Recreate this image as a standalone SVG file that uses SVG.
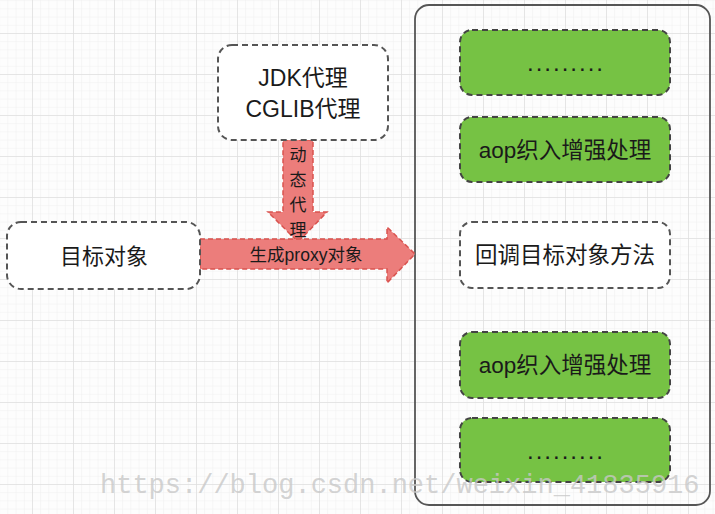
<svg xmlns="http://www.w3.org/2000/svg" width="715" height="514" viewBox="0 0 715 514">
<defs>
<pattern id="minor" x="32" y="33" width="8.2" height="8.2" patternUnits="userSpaceOnUse">
<path d="M0 0H8.2M0 0V8.2" fill="none" stroke="#efefef" stroke-width="1"/>
</pattern>
<pattern id="major" x="32" y="33" width="41" height="41" patternUnits="userSpaceOnUse">
<path d="M0 0H41M0 0V41" fill="none" stroke="#e0e0e0" stroke-width="1.5"/>
</pattern>
<style>
.t{font-family:"Liberation Sans","Noto Sans CJK SC",sans-serif;fill:#1a1a1a;text-anchor:middle}
.w{fill:#fff;stroke:#555;stroke-width:2;stroke-dasharray:6 4}
.g{fill:#76c244;stroke:#444;stroke-width:2;stroke-dasharray:6 4}
.arr{fill:#ec7d7b;stroke:#d9534f;stroke-width:1.5;stroke-dasharray:5 3}
.dots{font-size:24px;letter-spacing:2px}
</style>
</defs>
<rect width="715" height="514" fill="#fdfdfd"/>
<rect width="715" height="514" fill="url(#minor)"/>
<rect width="715" height="514" fill="url(#major)"/>

<g id="container">
<rect x="415" y="5" width="295" height="500" rx="14" fill="none" stroke="#555" stroke-width="1.8"/>
</g>

<g id="connectors">
<path class="arr" d="M283 140 H313 V212 H327 L298 242 L268 212 H283 Z"/>
<path class="arr" d="M200 239 H387 V227 L415 254 L387 283 V269 H200 Z"/>
<text class="t" x="298" y="161" font-size="17">动</text>
<text class="t" x="298" y="186" font-size="17">态</text>
<text class="t" x="298" y="211" font-size="17">代</text>
<text class="t" x="298" y="236" font-size="17">理</text>
<text class="t" x="306" y="261" font-size="17.5">生成proxy对象</text>
</g>

<g id="proxy">
<rect class="w" x="218" y="45" width="170" height="95" rx="14"/>
<text class="t" x="303" y="86" font-size="23">JDK代理</text>
<text class="t" x="303" y="117" font-size="23">CGLIB代理</text>
</g>

<g id="target">
<rect class="w" x="7" y="222" width="193" height="67" rx="14"/>
<text class="t" x="104" y="264" font-size="22">目标对象</text>
</g>

<g id="n1">
<rect class="g" x="460" y="30" width="210" height="65" rx="12"/>
<text class="t dots" x="566" y="71">.........</text>
</g>
<g id="n2">
<rect class="g" x="460" y="117" width="210" height="65" rx="12"/>
<text class="t" x="565" y="158" font-size="22.5">aop织入增强处理</text>
</g>
<g id="n3">
<rect class="w" x="460" y="222" width="210" height="66" rx="12"/>
<text class="t" x="565" y="263" font-size="22.5">回调目标对象方法</text>
</g>
<g id="n4">
<rect class="g" x="460" y="332" width="210" height="66" rx="12"/>
<text class="t" x="565" y="373" font-size="22.5">aop织入增强处理</text>
</g>
<g id="n5">
<rect class="g" x="460" y="418" width="210" height="64" rx="12"/>
<text class="t dots" x="566" y="459">.........</text>
</g>

<text x="100" y="493" font-family="'Liberation Mono',monospace" font-size="27" fill="#c8c8c8" fill-opacity="0.8">https://blog.csdn.net/weixin_41835916</text>
</svg>
